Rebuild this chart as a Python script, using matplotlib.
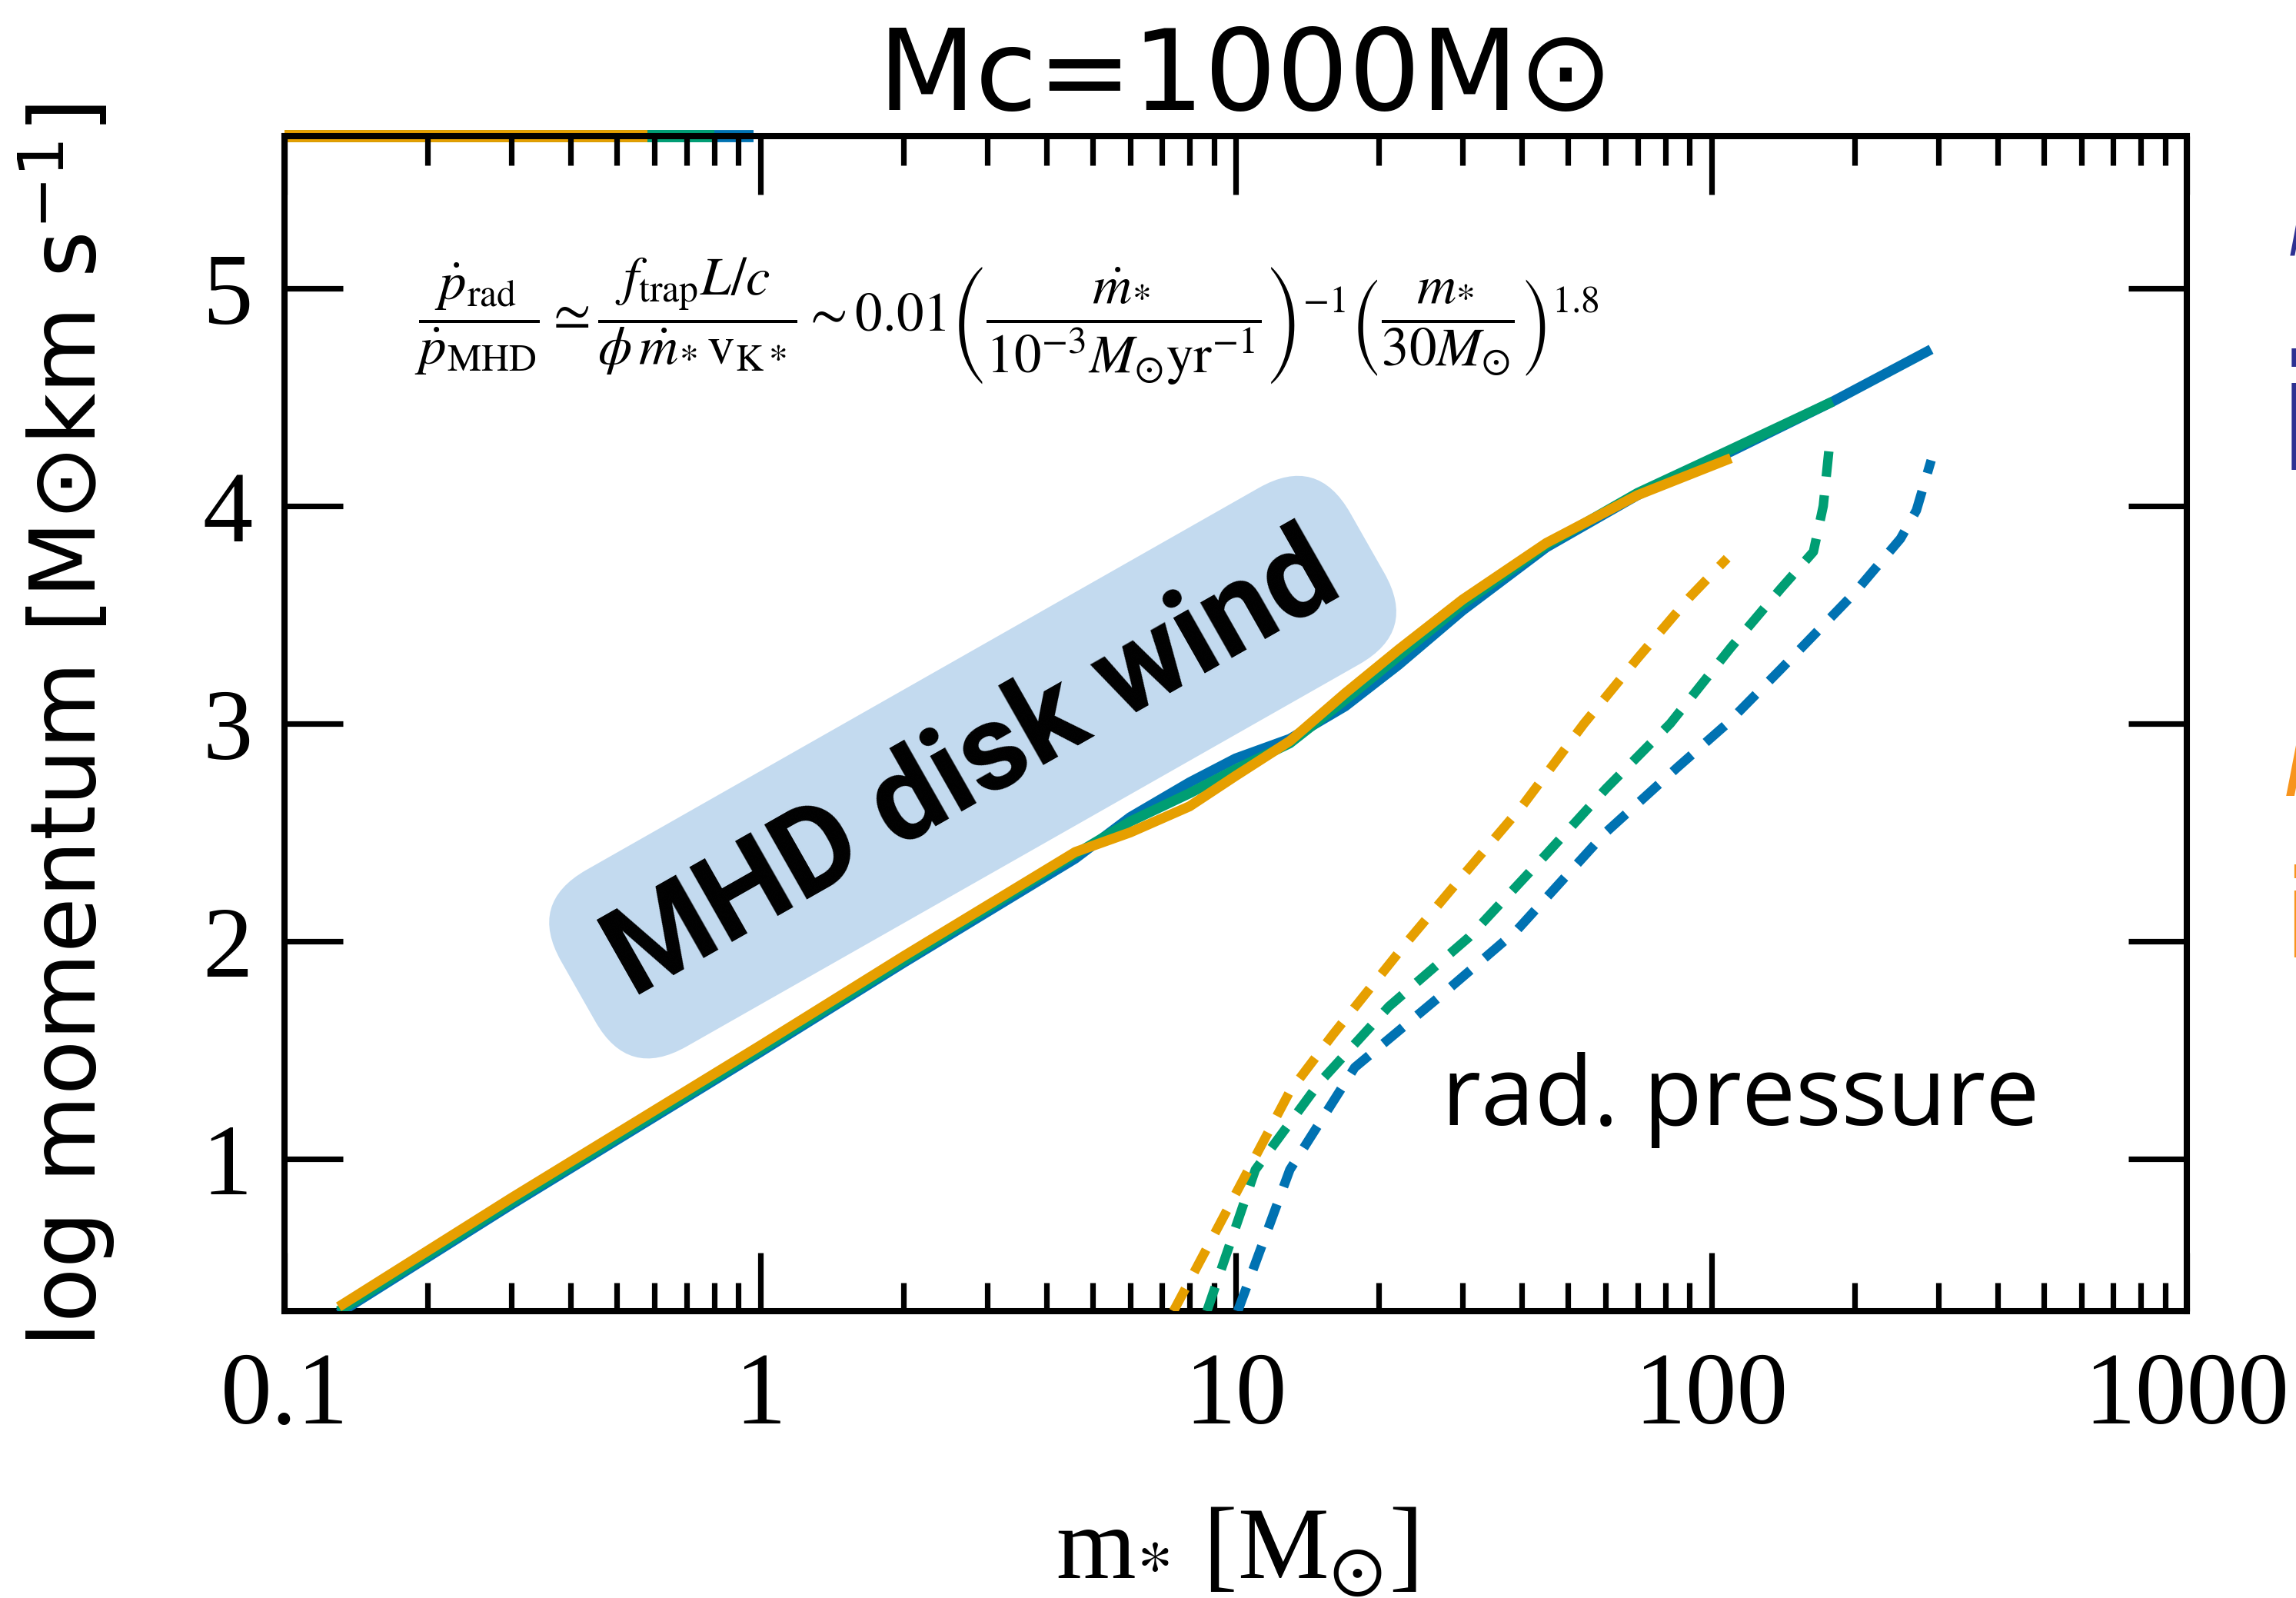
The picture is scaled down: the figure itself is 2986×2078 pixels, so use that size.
import matplotlib
matplotlib.use('Agg')
import matplotlib.pyplot as plt
from matplotlib.ticker import FixedLocator, FixedFormatter, NullLocator, NullFormatter

plt.rcParams['mathtext.fontset'] = 'stix'

# ---------------- data ----------------
x_ticks = [0.1, 1, 10, 100, 1000]
x_tick_labels = ['0.1', '1', '10', '100', '1000']
x_minor = [k * 10.0 ** e for e in (-1, 0, 1, 2) for k in range(2, 10)]
y_ticks = [1, 2, 3, 4, 5]
y_tick_labels = ['1', '2', '3', '4', '5']

# MHD disk wind (solid)
m_wind_blue = [0.13, 0.3, 1, 2, 4.6, 6, 8, 10, 13, 17, 22, 30, 45, 70, 110, 180, 290]
p_wind_blue = [0.29, 0.79, 1.49, 1.90, 2.38, 2.57, 2.73, 2.84, 2.93, 3.08, 3.27, 3.52, 3.81, 4.05, 4.25, 4.48, 4.72]
m_wind_green = [0.13, 0.3, 1, 2, 4.6, 6, 8, 10, 13, 17, 22, 30, 45, 70, 110, 180]
p_wind_green = [0.30, 0.80, 1.50, 1.91, 2.40, 2.55, 2.68, 2.79, 2.91, 3.11, 3.31, 3.55, 3.82, 4.06, 4.26, 4.48]
m_wind_orange = [0.13, 0.3, 1, 2, 4.6, 6, 8, 10, 13, 17, 22, 30, 45, 70, 110]
p_wind_orange = [0.32, 0.82, 1.52, 1.93, 2.41, 2.50, 2.62, 2.76, 2.92, 3.14, 3.34, 3.57, 3.83, 4.05, 4.22]

# radiation pressure (dashed)
m_rad_blue = [10.1, 13, 17.8, 27, 39, 60, 85, 108, 140, 200, 250, 270, 290]
p_rad_blue = [0.3, 0.95, 1.42, 1.75, 2.05, 2.5, 2.8, 3.0, 3.25, 3.6, 3.85, 3.98, 4.21]
m_rad_green = [8.7, 11, 15, 21, 31, 45, 60, 82, 110, 140, 164, 172, 178]
p_rad_green = [0.3, 0.95, 1.35, 1.7, 2.02, 2.4, 2.7, 3.0, 3.35, 3.62, 3.79, 4.0, 4.32]
m_rad_orange = [7.4, 9, 11, 13, 16, 23, 30, 40, 54, 70, 90, 108]
p_rad_orange = [0.3, 0.65, 1.01, 1.31, 1.57, 2.0, 2.3, 2.62, 3.0, 3.3, 3.58, 3.76]

# off-scale segments pinned at the upper frame
m_top_blue = [0.1, 0.97]
m_top_green = [0.1, 0.80]
m_top_orange = [0.1, 0.58]
p_top = 5.7

BLUE = '#0072B2'
GREEN = '#009E73'
ORANGE = '#E69F00'

# ---------------- figure ----------------
W, H = 2986, 2078
DPI = 200
fig = plt.figure(figsize=(W / DPI, H / DPI), dpi=DPI)
ax = fig.add_axes([370 / W, 1 - 1705 / H, (2844 - 370) / W, (1705 - 177) / H])
ax.set_xscale('log')
ax.set_xlim(0.1, 1000)
ax.set_ylim(0.3, 5.7)

lw_solid = 4.7
lw_dash = 4.4
dash = (2.7, 2.0)

for m, c in ((m_top_blue, BLUE), (m_top_green, GREEN), (m_top_orange, ORANGE)):
    ax.plot(m, [p_top] * len(m), color=c, lw=lw_solid + 1.0, clip_on=False, solid_capstyle='butt', zorder=1)

ax.plot(m_wind_blue, p_wind_blue, color=BLUE, lw=lw_solid, solid_capstyle='butt', zorder=3)
ax.plot(m_wind_green, p_wind_green, color=GREEN, lw=lw_solid, solid_capstyle='butt', zorder=3.1)
ax.plot(m_wind_orange, p_wind_orange, color=ORANGE, lw=lw_solid, solid_capstyle='butt', zorder=3.2)

ax.plot(m_rad_blue, p_rad_blue, color=BLUE, lw=lw_dash, dashes=dash, zorder=3)
ax.plot(m_rad_green, p_rad_green, color=GREEN, lw=lw_dash, dashes=dash, zorder=3)
ax.plot(m_rad_orange, p_rad_orange, color=ORANGE, lw=lw_dash, dashes=dash, zorder=3)

# ticks
ax.xaxis.set_major_locator(FixedLocator(x_ticks))
ax.xaxis.set_major_formatter(FixedFormatter(x_tick_labels))
ax.xaxis.set_minor_locator(FixedLocator(x_minor))
ax.xaxis.set_minor_formatter(NullFormatter())
ax.yaxis.set_major_locator(FixedLocator(y_ticks))
ax.yaxis.set_major_formatter(FixedFormatter(y_tick_labels))
ax.yaxis.set_minor_locator(NullLocator())
for s in ax.spines.values():
    s.set_linewidth(2.9)
ax.tick_params(which='both', direction='in', top=True, right=True, width=2.6, color='black')
ax.tick_params(which='major', length=27.5)
ax.tick_params(which='minor', length=13.5)
ax.tick_params(axis='x', which='major', labelsize=48, pad=19)
ax.tick_params(axis='y', which='major', labelsize=47, pad=15)
for lab in ax.get_xticklabels() + ax.get_yticklabels():
    lab.set_fontfamily('Liberation Serif')

# texts
fig.text(0.5425, 1 - 143 / H, 'Mc=1000M⊙', ha='center', va='baseline', fontsize=53,
         family=['DejaVu Sans'])
fig.text(0.029, 0.546, r'log momentum [M⊙km s$^{\mathregular{-1}}$]', rotation=90,
         ha='center', va='center', fontsize=42, family=['DejaVu Sans'])
fig.text(0.5385, 1 - 2052 / H, r'm$_{*}$ [M$_{\odot}$]', ha='center', va='baseline',
         fontsize=48, family=['Liberation Serif'])

ax.text(27.1, 1.155, 'rad. pressure', ha='left', va='baseline', fontsize=45,
        family=['Open Sans', 'DejaVu Sans'], zorder=5)

ax.text(2.80, 2.80, 'MHD disk wind', rotation=29.6, rotation_mode='anchor',
        ha='center', va='center', fontsize=57, fontweight='bold',
        family=['Liberation Sans Narrow', 'Roboto', 'DejaVu Sans'], zorder=2,
        bbox=dict(boxstyle='round,pad=0.36,rounding_size=0.55', fc='#c3daef', ec='none'))

eq = (r'$\dfrac{\dot{p}_{\rm rad}}{\dot{p}_{\rm MHD}} \simeq '
      r'\dfrac{f_{\rm trap}L/c}{\phi\,\dot{m}_{*}\,{\rm v}_{\rm K*}} \sim 0.01'
      r'\left(\dfrac{\dot{m}_{*}}{10^{-3}M_{\odot}{\rm yr}^{-1}}\right)^{-1}'
      r'\left(\dfrac{m_{*}}{30M_{\odot}}\right)^{1.8}$')
ax.text(3.3, 4.85, eq, ha='center', va='center', fontsize=25.5, zorder=5)

# cut-off fragments at right edge (from a neighbouring panel)
fig.text(0.9966, 1 - 333 / H, 'l', color='#2e3192', ha='left', va='baseline', fontsize=24,
         fontstyle='italic')
fig.text(0.9915, 1 - 610 / H, 'i', color='#2e3192', ha='left', va='baseline', fontsize=74)
fig.text(0.9943, 1 - 1035 / H, 'l', color='#f7941d', ha='left', va='baseline', fontsize=43,
         fontstyle='italic')
fig.text(0.9940, 1 - 1245 / H, 'i', color='#f7941d', ha='left', va='baseline', fontsize=57)

fig.savefig('out.png', dpi=DPI)
